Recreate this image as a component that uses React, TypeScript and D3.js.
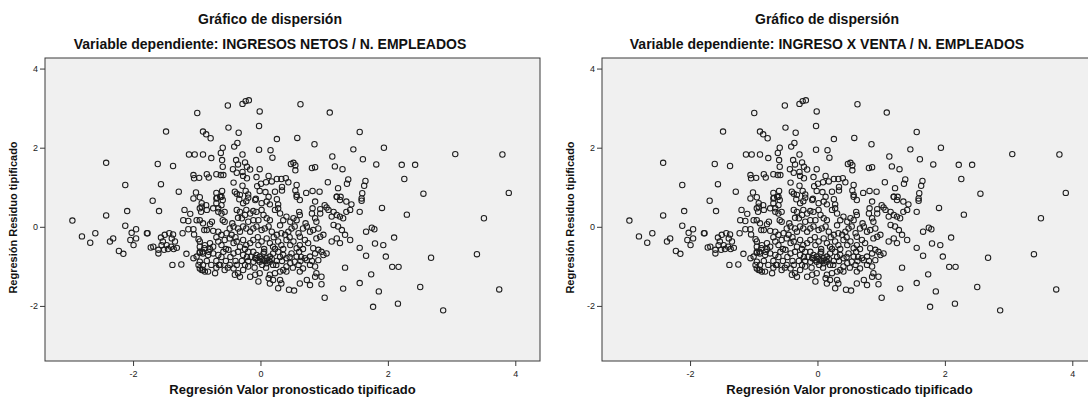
import { useEffect, useRef } from 'react';
import * as d3 from 'd3';

const TITLE = 'Gráfico de dispersión';
const DEPENDENT = ['INGRESOS NETOS / N. EMPLEADOS', 'INGRESO X VENTA / N. EMPLEADOS'];
const X_LABEL = 'Regresión Valor pronosticado tipificado';
const Y_LABEL = 'Regresión Residuo tipificado';
const X_TICKS = [-2, 0, 2, 4];
const Y_TICKS = [-2, 0, 2, 4];
const X_DOMAIN = [-3.39, 4.38];
const Y_DOMAIN = [-3.38, 4.28];

// [valor pronosticado tipificado, residuo tipificado] - both panels show (almost) the same cloud
const POINTS: [number, number][] = [
  // left side
  [-1.00, 2.89], [-1.49, 2.42], [-0.91, 2.42], [-0.86, 2.35], [-0.79, 2.25],
  [-1.13, 1.84], [-1.04, 1.84], [-0.91, 1.84], [-2.43, 1.63], [-1.62, 1.60], [-1.38, 1.55],
  [-1.06, 1.32], [-1.05, 1.24], [-0.97, 1.25], [-0.85, 1.34], [-0.82, 1.26],
  [-2.13, 1.07], [-1.57, 1.09], [-1.29, 0.90], [-1.02, 0.88], [-0.96, 0.76], [-1.06, 0.73],
  [-1.70, 0.67], [-2.96, 0.17], [-2.81, -0.23], [-2.68, -0.39], [-2.60, -0.15], [-2.43, 0.30],
  [-2.37, -0.36], [-2.32, -0.28], [-2.23, -0.60], [-2.16, -0.67], [-2.10, 0.41], [-2.13, 0.04],
  [-2.03, -0.14], [-1.96, -0.05], [-1.96, -0.28], [-2.05, -0.32], [-2.00, -0.45],
  [-1.79, -0.15], [-1.78, -0.15], [-1.60, 0.41],
  [-1.73, -0.51], [-1.69, -0.49], [-1.61, -0.57], [-1.61, -0.66],
  [-1.57, -0.26], [-1.54, -0.36], [-1.51, -0.19], [-1.48, -0.45], [-1.44, -0.15], [-1.40, -0.28],
  [-1.38, -0.18], [-1.35, -0.36], [-1.41, -0.49], [-1.46, -0.55], [-1.37, -0.55], [-1.32, -0.52],
  [-1.52, -0.57], [-1.56, -0.45], [-1.39, -0.95], [-1.25, -0.94],
  [-1.20, 0.44], [-1.11, 0.34], [-1.22, 0.18], [-1.14, 0.16], [-1.01, 0.18],
  [-1.23, -0.15], [-1.14, -0.05], [-1.06, -0.05], [-1.05, -0.18], [-0.98, -0.30], [-1.17, -0.67],
  [-0.93, 0.52], [-0.94, 0.39],
  [-1.06, -0.78], [-1.01, -0.74], [-0.96, -0.87], [-0.91, -0.95], [-0.98, -0.95], [-0.93, -1.08], [-0.88, -1.12],
  [-0.96, -0.65], [-0.92, -0.62], [-0.96, -0.49], [-0.89, -0.53], [-0.89, -0.07],
  // upper middle
  [-0.52, 3.08], [-0.29, 3.12], [-0.24, 3.19], [-0.19, 3.21], [-0.02, 2.93], [0.62, 3.11], [1.08, 2.90],
  [-0.51, 2.52], [-0.03, 2.56], [-0.35, 2.39], [1.55, 2.41], [0.25, 2.23], [0.57, 2.26], [0.84, 2.10],
  [-0.60, 2.01], [-0.63, 1.88], [-0.37, 2.13], [-0.42, 2.04], [-0.78, 1.75], [-0.03, 1.96],
  [0.15, 1.95], [0.18, 1.76], [-0.29, 1.84], [-0.61, 1.70], [-0.60, 1.53], [-0.63, 1.32], [-0.59, 1.32],
  [-0.39, 1.70], [-0.36, 1.59], [-0.25, 1.64], [-0.22, 1.53], [-0.17, 1.46],
  [-0.44, 1.47], [-0.38, 1.38], [-0.29, 1.40], [-0.28, 1.30], [-0.22, 1.24], [-0.02, 1.47],
  [0.47, 1.60], [0.51, 1.63], [0.54, 1.57], [0.54, 1.44], [0.80, 1.50], [0.85, 1.52],
  [1.12, 1.79], [1.16, 1.54], [1.28, 1.47], [1.45, 1.97], [1.60, 1.72], [-0.70, 1.34],
  [-0.43, 1.13], [-0.41, 0.90], [-0.38, 0.85], [-0.29, 1.05], [-0.24, 0.92],
  [-0.07, 1.27], [-0.06, 1.04], [0.00, 1.10], [0.08, 1.14], [0.12, 1.30], [0.17, 1.16],
  [0.25, 1.22], [0.32, 1.22], [0.39, 1.24], [0.43, 1.14],
  [-0.02, 0.92], [0.07, 0.89], [0.22, 0.90], [0.33, 1.02], [0.33, 0.93],
  [0.56, 1.07], [0.54, 0.93], [0.56, 0.82], [0.71, 0.87], [0.81, 0.92], [0.92, 0.90],
  [1.05, 1.14], [1.21, 0.99], [1.19, 0.77], [1.25, 0.77], [1.37, 1.21], [1.35, 1.10], [1.59, 0.86],
  [-0.70, 0.87], [-0.61, 0.92], [-0.69, 0.75], [-0.62, 0.77], [-0.33, 0.82], [-0.20, 0.83], [-0.08, 0.72],
  // right side
  [1.93, 2.01], [1.81, 1.59], [2.21, 1.58], [2.42, 1.58], [3.05, 1.85], [3.79, 1.84], [2.25, 1.22],
  [1.64, 1.17], [1.62, 1.05], [1.58, 0.73], [2.55, 0.85], [3.89, 0.87], [3.50, 0.23], [3.39, -0.68],
  [2.29, 0.32], [2.67, -0.77], [2.09, -0.26], [1.90, 0.49], [1.79, -0.41], [1.92, -0.45],
  [1.65, -0.72], [1.96, -0.74], [2.06, -1.00], [2.16, -1.00], [1.32, -1.02], [1.58, 0.67],
  [1.55, 0.39], [1.65, -0.11], [1.74, -0.01], [1.78, -0.05], [1.55, -0.52], [1.73, -1.19],
  [1.55, -1.41], [2.50, -1.51], [3.74, -1.57], [1.85, -1.62], [2.15, -1.93], [1.76, -2.01],
  [2.86, -2.10], [1.29, -1.55],
  // dense centre
  [-0.70, 0.73], [-0.64, 0.77], [-0.60, 0.69], [-0.93, 0.61], [-0.86, 0.56], [-0.96, 0.48],
  [-0.85, 0.44], [-0.75, 0.48], [-0.67, 0.48], [-0.62, 0.56], [-0.70, 0.61],
  [-0.34, 0.71], [-0.28, 0.61], [-0.23, 0.66], [-0.20, 0.75], [-0.09, 0.69], [0.01, 0.61],
  [0.09, 0.65], [0.14, 0.58], [0.25, 0.71], [0.27, 0.58], [0.12, 0.77], [0.56, 0.77], [0.61, 0.69],
  [0.85, 0.65], [0.81, 0.48], [0.93, 0.46], [1.03, 0.50], [1.06, 0.44], [1.00, 0.56],
  [1.19, 0.77], [1.24, 0.69], [1.34, 0.65], [1.42, 0.58],
  [-0.67, 0.39], [-0.62, 0.35], [-0.57, 0.39], [-0.60, 0.18], [-0.57, 0.14], [-0.77, 0.14],
  [-0.38, 0.44], [-0.33, 0.39], [-0.36, 0.24], [-0.30, 0.23], [-0.25, 0.31], [-0.23, 0.44],
  [-0.17, 0.35], [-0.12, 0.41], [-0.07, 0.39], [0.01, 0.44], [0.04, 0.31], [0.09, 0.23],
  [0.14, 0.18], [-0.04, 0.18], [-0.12, 0.18], [-0.20, 0.14], [0.22, 0.44], [0.27, 0.48],
  [0.30, 0.35], [0.35, 0.18], [0.40, 0.27], [0.46, 0.14], [0.51, 0.23], [0.56, 0.18],
  [0.60, 0.39], [0.61, 0.31], [0.80, 0.35], [0.85, 0.23], [0.93, 0.35], [0.87, 0.14],
  [1.11, 0.27], [1.14, 0.39], [1.19, 0.31], [1.24, 0.27], [1.29, 0.23], [1.34, 0.39], [1.40, 0.44],
  [-0.96, 0.18], [-0.91, 0.10], [-0.80, 0.08], [-0.45, 0.10], [0.30, 0.05], [0.70, 0.10],
  [-0.85, -0.07], [-0.75, -0.09], [-0.67, -0.11], [-0.62, -0.19], [-0.54, -0.15], [-0.49, -0.03],
  [-0.43, 0.02], [-0.46, -0.19], [-0.36, -0.03], [-0.33, -0.11], [-0.28, 0.02], [-0.23, -0.03],
  [-0.17, -0.11], [-0.12, -0.03], [-0.07, 0.02], [0.01, -0.07], [0.06, -0.03], [0.12, 0.02],
  [0.17, -0.11], [0.25, -0.19], [0.32, -0.15], [0.38, -0.19], [0.43, -0.11], [0.48, -0.03],
  [0.53, 0.02], [0.59, -0.15], [0.61, -0.24], [0.66, -0.03], [0.72, 0.02], [0.77, -0.11],
  [0.82, -0.07], [0.90, -0.03], [0.93, -0.24], [0.87, -0.28], [0.98, -0.19],
  [1.14, 0.06], [1.21, 0.02], [1.27, -0.07], [1.32, -0.19], [1.19, -0.28], [1.11, -0.36],
  [1.24, -0.40], [1.40, -0.32],
  [-0.70, -0.25], [-0.40, -0.25], [-0.05, -0.25], [0.20, -0.25], [0.45, -0.25],
  [-0.96, -0.36], [-0.88, -0.45], [-0.80, -0.40], [-0.75, -0.49], [-0.67, -0.36], [-0.62, -0.45],
  [-0.57, -0.32], [-0.49, -0.28], [-0.43, -0.40], [-0.38, -0.36], [-0.33, -0.49], [-0.28, -0.32],
  [-0.23, -0.45], [-0.17, -0.40], [-0.12, -0.32], [-0.04, -0.45], [0.01, -0.36], [0.09, -0.28],
  [0.14, -0.40], [0.19, -0.49], [0.27, -0.36], [0.32, -0.45], [0.40, -0.32], [0.46, -0.45],
  [0.51, -0.36], [0.56, -0.53], [0.61, -0.45], [0.69, -0.32], [0.74, -0.40], [0.82, -0.53],
  [0.90, -0.57], [0.95, -0.62], [1.03, -0.66],
  [-0.80, -0.55], [-0.55, -0.55], [-0.25, -0.55], [0.05, -0.55], [0.22, -0.55], [0.35, -0.55], [0.66, -0.55],
  [-0.96, -0.62], [-0.91, -0.66], [-0.83, -0.70], [-0.75, -0.66], [-0.67, -0.70], [-0.59, -0.62],
  [-0.51, -0.57], [-0.43, -0.66], [-0.36, -0.62], [-0.28, -0.70], [-0.12, -0.62], [-0.07, -0.70],
  [-0.02, -0.74], [0.04, -0.66], [0.09, -0.78], [0.14, -0.74], [0.19, -0.66], [0.27, -0.62],
  [0.35, -0.70], [0.40, -0.78], [0.48, -0.66], [0.56, -0.74], [0.69, -0.78], [0.77, -0.74],
  [0.85, -0.66], [0.90, -0.83], [0.98, -0.70],
  [-0.82, -0.62], [-0.20, -0.62], [0.05, -0.62], [0.60, -0.62],
  [-0.62, -0.75], [-0.48, -0.75], [-0.22, -0.75], [-0.16, -0.75], [0.30, -0.75], [0.45, -0.75], [0.63, -0.75],
  [-0.09, -0.78], [-0.04, -0.83], [0.01, -0.80], [0.06, -0.85], [0.12, -0.83], [0.17, -0.80],
  [-0.85, -0.85], [-0.70, -0.85], [-0.55, -0.85], [-0.40, -0.85], [-0.30, -0.85], [-0.20, -0.85],
  [0.25, -0.85], [0.33, -0.85], [0.62, -0.85], [0.80, -0.85],
  [-0.78, -0.95], [-0.66, -0.95], [-0.38, -0.95], [-0.25, -0.95], [0.02, -0.95], [0.24, -0.95],
  [-0.96, -1.04], [-0.91, -1.08], [-0.83, -1.12], [-0.72, -1.16], [-0.64, -0.95], [-0.57, -1.08],
  [-0.49, -0.95], [-0.43, -1.04], [-0.36, -1.16], [-0.28, -1.08], [-0.20, -0.99], [-0.12, -0.87],
  [-0.07, -0.78], [-0.02, -0.87], [0.04, -0.83], [0.09, -0.91], [0.14, -0.87], [0.19, -0.95],
  [0.30, -1.12], [0.35, -1.08], [0.40, -0.99], [0.46, -0.91], [0.53, -0.87], [0.59, -0.95],
  [0.61, -1.12], [0.66, -1.04], [0.72, -0.83], [0.77, -0.95], [0.85, -0.99], [0.87, -1.16],
  [-0.70, -1.02], [-0.52, -1.02], [-0.10, -1.02], [0.08, -1.02], [0.50, -1.02],
  [0.95, -1.25], [-0.41, -1.20], [-0.33, -1.25], [-0.17, -1.25], [-0.09, -1.20], [-0.02, -1.16],
  [0.14, -1.20], [0.22, -1.16],
  [-0.04, -1.37], [0.14, -1.42], [0.27, -1.54], [0.32, -1.42], [0.40, -1.12], [0.44, -1.58],
  [0.52, -1.60], [0.61, -1.42], [0.72, -1.33], [0.77, -1.46], [0.85, -1.25], [0.95, -1.44],
  [1.00, -1.78], [0.12, -1.29], [0.19, -1.33], [0.30, -1.33],
];

const FONT = "'Liberation Sans', Arial, sans-serif";
const PLOT = { left: 45, right: 540, top: 58, bottom: 361 };

function Panel({ offset, dependent }: { offset: number; dependent: string }) {
  const ref = useRef<SVGGElement>(null);

  useEffect(() => {
    if (!ref.current) return;
    const g = d3.select(ref.current);
    g.selectAll('*').remove();

    const x = d3.scaleLinear().domain(X_DOMAIN).range([PLOT.left, PLOT.right]);
    const y = d3.scaleLinear().domain(Y_DOMAIN).range([PLOT.bottom, PLOT.top]);

    // titles
    g.append('text')
      .attr('x', 270).attr('y', 24)
      .attr('text-anchor', 'middle')
      .attr('font-family', FONT).attr('font-weight', 'bold').attr('font-size', 14)
      .attr('fill', '#111')
      .text(TITLE);
    g.append('text')
      .attr('x', 270).attr('y', 49)
      .attr('text-anchor', 'middle')
      .attr('font-family', FONT).attr('font-weight', 'bold').attr('font-size', 14)
      .attr('fill', '#111')
      .text(`Variable dependiente: ${dependent}`);

    // plot area
    g.append('rect')
      .attr('x', PLOT.left).attr('y', PLOT.top)
      .attr('width', PLOT.right - PLOT.left).attr('height', PLOT.bottom - PLOT.top)
      .attr('fill', '#f0f0f0')
      .attr('stroke', '#3a3a3a')
      .attr('stroke-width', 1);

    // y axis ticks
    Y_TICKS.forEach((t) => {
      g.append('line')
        .attr('x1', PLOT.left - 5).attr('x2', PLOT.left)
        .attr('y1', y(t)).attr('y2', y(t))
        .attr('stroke', '#3a3a3a');
      g.append('text')
        .attr('x', PLOT.left - 7).attr('y', y(t))
        .attr('text-anchor', 'end').attr('dominant-baseline', 'central')
        .attr('font-family', FONT).attr('font-size', 9).attr('fill', '#222')
        .text(t);
    });

    // x axis ticks
    X_TICKS.forEach((t) => {
      g.append('line')
        .attr('x1', x(t)).attr('x2', x(t))
        .attr('y1', PLOT.bottom).attr('y2', PLOT.bottom + 5)
        .attr('stroke', '#3a3a3a');
      g.append('text')
        .attr('x', x(t)).attr('y', PLOT.bottom + 13)
        .attr('text-anchor', 'middle').attr('dominant-baseline', 'central')
        .attr('font-family', FONT).attr('font-size', 9).attr('fill', '#222')
        .text(t);
    });

    // axis titles
    g.append('text')
      .attr('x', (PLOT.left + PLOT.right) / 2).attr('y', 394)
      .attr('text-anchor', 'middle')
      .attr('font-family', FONT).attr('font-weight', 'bold').attr('font-size', 13)
      .attr('fill', '#111')
      .text(X_LABEL);
    g.append('text')
      .attr('transform', `translate(17,${(PLOT.top + PLOT.bottom) / 2 + 8}) rotate(-90)`)
      .attr('text-anchor', 'middle')
      .attr('font-family', FONT).attr('font-weight', 'bold').attr('font-size', 11)
      .attr('fill', '#111')
      .text(Y_LABEL);

    // markers
    g.append('g')
      .selectAll('circle')
      .data(POINTS)
      .join('circle')
      .attr('cx', (d) => x(d[0]))
      .attr('cy', (d) => y(d[1]))
      .attr('r', 2.7)
      .attr('fill', 'none')
      .attr('stroke', '#1e1e1e')
      .attr('stroke-width', 1.05);
  }, [offset, dependent]);

  return <g ref={ref} transform={`translate(${offset},0)`} />;
}

export default function App() {
  return (
    <svg
      width={1088}
      height={400}
      style={{ position: 'absolute', left: 0, top: 0, background: '#fff' }}
    >
      <Panel offset={0} dependent={DEPENDENT[0]} />
      <Panel offset={557} dependent={DEPENDENT[1]} />
    </svg>
  );
}
